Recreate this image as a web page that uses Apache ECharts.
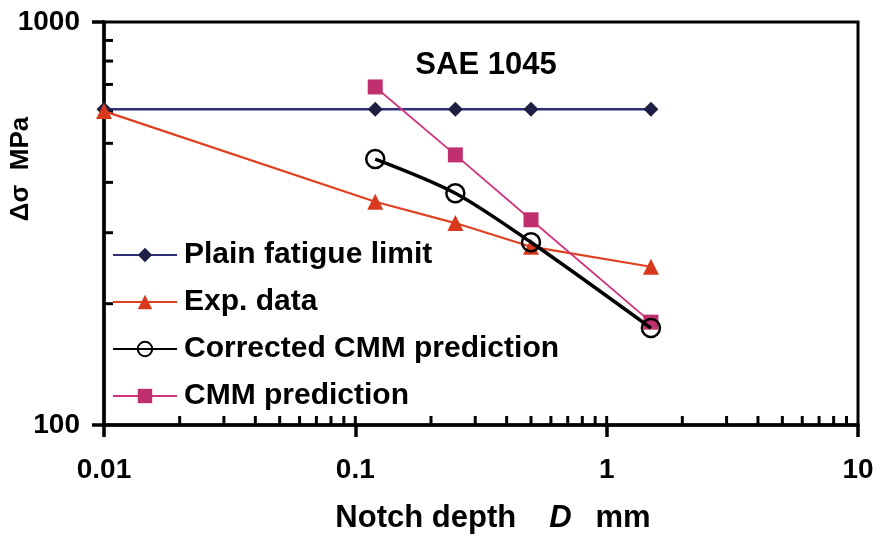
<!DOCTYPE html>
<html><head><meta charset="utf-8">
<script src="https://cdn.jsdelivr.net/npm/echarts@6/dist/echarts.min.js"></script>
<style>html,body{margin:0;padding:0;background:#fff}#c{width:877px;height:536px}</style>
</head><body><div id="c"></div>
<script>
// ---- data ----
const notchDepth = [0.01, 0.12, 0.25, 0.5, 1.5];
const predDepth = [0.12, 0.25, 0.5, 1.5];
const plainFatigue = [607, 607, 607, 607, 607];
const expData = [601, 358, 317, 277, 247];
const correctedCMM = [457, 376, 284, 174];
const cmmPred = [690, 468, 323, 180];
const seriesNames = ['Plain fatigue limit', 'Exp. data', 'Corrected CMM prediction', 'CMM prediction'];
const xTickLabels = ['0.01', '0.1', '1', '10'];
const yTickLabels = ['100', '1000'];
const xInnerTicks = [0.02,0.03,0.04,0.05,0.06,0.07,0.08,0.09,0.1,0.2,0.3,0.4,0.5,0.6,0.7,0.8,0.9,1,2,3,4,5,6,7,8,9];
const yInnerTicks = [200,300,400,500,600,700,800,900];

const FONT = 'Liberation Sans';
const pair = (xs, ys) => xs.map((x, i) => [x, ys[i]]);
const labelFor = (labels) => (v) => {
  const m = labels.find(l => Math.abs(parseFloat(l) - v) <= 1e-6 * Math.abs(v));
  return m === undefined ? '' : m;
};

const chart = echarts.init(document.getElementById('c'));
chart.setOption({
  animation: false,
  backgroundColor: '#fff',
  grid: { left: 104, right: 19, top: 22, bottom: 111, containLabel: false, outerBoundsMode: 'none',
    show: true, borderColor: '#000', borderWidth: 3, backgroundColor: 'transparent' },
  title: {
    text: 'SAE 1045', left: 481, top: 45, textAlign: 'center',
    textStyle: { fontFamily: FONT, fontWeight: 'bold', fontSize: 31, color: '#000' }
  },
  legend: {
    data: seriesNames, orient: 'vertical', left: 107, top: 235,
    itemWidth: 64, itemHeight: 18, itemGap: 17,
    textStyle: { fontFamily: FONT, fontWeight: 'bold', fontSize: 30, color: '#000', padding: [0,0,0,2] },
    selectedMode: false
  },
  xAxis: {
    type: 'log', logBase: 10, min: 0.01, max: 10, interval: 1,
    name: '{a|Notch depth}{d|D}{b|mm}', nameLocation: 'middle', nameGap: 78,
    nameTextStyle: {
      rich: {
        a: { fontFamily: FONT, fontWeight: 'bold', fontSize: 31, color: '#000', padding: [0, 0, 0, 24] },
        b: { fontFamily: FONT, fontWeight: 'bold', fontSize: 31, color: '#000' },
        d: { fontFamily: FONT, fontWeight: 'bold', fontStyle: 'italic', fontSize: 31, color: '#000', padding: [0, 24, 0, 33] }
      }
    },
    axisLine: { lineStyle: { color: '#000', width: 3.5 } },
    axisTick: { show: true, inside: false, length: 12, lineStyle: { color: '#000', width: 3.5 } },
    minorTick: { show: false },
    splitLine: { show: false },
    axisLabel: { formatter: labelFor(xTickLabels), margin: 31, fontFamily: FONT, fontWeight: 'bold', fontSize: 28, color: '#000' }
  },
  yAxis: {
    type: 'log', logBase: 10, min: 100, max: 1000, interval: 1,
    axisLine: { lineStyle: { color: '#000', width: 3.5 } },
    axisTick: { show: true, inside: false, length: 12, lineStyle: { color: '#000', width: 3.5 } },
    minorTick: { show: false },
    splitLine: { show: false },
    axisLabel: { formatter: labelFor(yTickLabels), margin: 24, padding: [6, 0, 0, 0], fontFamily: FONT, fontWeight: 'bold', fontSize: 28, color: '#000' }
  },
  graphic: [{
    type: 'text', x: 21, y: 169, rotation: Math.PI / 2,
    style: { text: 'Δσ  MPa', align: 'center', verticalAlign: 'middle', fill: '#000',
      font: 'bold 26px "Liberation Sans"' }
  }],
  series: [
    {
      type: 'custom', silent: true, clip: false, z: 1,
      data: xInnerTicks.map(v => [v, 100]),
      renderItem: (params, api) => {
        const p = api.coord([api.value(0), api.value(1)]);
        return { type: 'line', shape: { x1: p[0], y1: p[1], x2: p[0], y2: p[1] - 9 }, style: { stroke: '#000', lineWidth: 3 } };
      }
    },
    {
      type: 'custom', silent: true, clip: false, z: 1,
      data: yInnerTicks.map(v => [0.01, v]),
      renderItem: (params, api) => {
        const p = api.coord([api.value(0), api.value(1)]);
        return { type: 'line', shape: { x1: p[0], y1: p[1], x2: p[0] + 9, y2: p[1] }, style: { stroke: '#000', lineWidth: 3 } };
      }
    },
    {
      name: seriesNames[0], type: 'line', data: pair(notchDepth, plainFatigue),
      symbol: 'diamond', symbolSize: 15, z: 3,
      lineStyle: { color: '#2e2f78', width: 2.5 },
      itemStyle: { color: '#1e1f45' }
    },
    {
      name: seriesNames[1], type: 'line', data: pair(notchDepth, expData),
      symbol: 'triangle', symbolSize: 16, z: 4,
      lineStyle: { color: '#e0401f', width: 2.2 },
      itemStyle: { color: '#d8381c' }
    },
    {
      name: seriesNames[2], type: 'line', data: pair(predDepth, correctedCMM),
      symbol: 'circle', symbolSize: 18, smooth: 0.3, z: 5,
      lineStyle: { color: '#000', width: 3.5 },
      itemStyle: { color: 'rgba(0,0,0,0)', borderColor: '#000', borderWidth: 2.5 }
    },
    {
      name: seriesNames[3], type: 'line', data: pair(predDepth, cmmPred),
      symbol: 'rect', symbolSize: 15, z: 4,
      lineStyle: { color: '#d0347f', width: 1.8 },
      itemStyle: { color: '#bf2f6e' }
    }
  ]
});
</script>
</body></html>
